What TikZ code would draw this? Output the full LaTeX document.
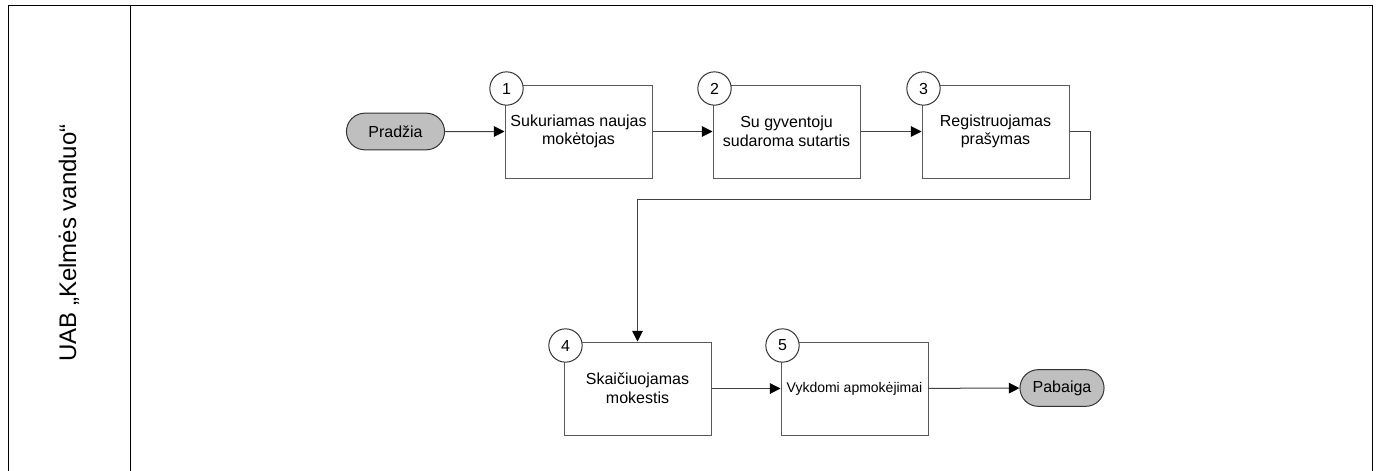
\documentclass[tikz,border=0pt]{standalone}
\usepackage{fontspec}
\setmainfont{Liberation Sans}
\usetikzlibrary{arrows.meta,shapes.misc}

\tikzset{
  lane/.style={line width=0.75pt, draw=black},
  stepbox/.style={draw=black!65, line width=0.75pt, fill=white, align=center,
    minimum width=110.25pt, minimum height=69.75pt, font=\fontsize{12}{14}\selectfont},
  numcirc/.style={circle, draw=black!80, line width=0.75pt, fill=white,
    minimum size=25pt, inner sep=0pt, font=\fontsize{12}{14}\selectfont},
  term/.style={rounded rectangle, draw=black!80, line width=0.75pt, fill=black!25,
    minimum height=27.5pt, font=\fontsize{12}{14}\selectfont},
  flow/.style={draw=black!75, line width=0.75pt, -{Triangle[length=8pt,width=8pt,color=black]}}
}

\begin{document}
\begin{tikzpicture}[x=0.75pt,y=-0.75pt]
  \useasboundingbox (0,0) rectangle (1382,471);

  % swimlane
  \draw[lane] (8,471) -- (8,5) -- (1372,5) -- (1372,471);
  \draw[lane] (130,5) -- (130,471);
  \node[rotate=90, font=\fontsize{18}{20}\selectfont] (org) at (69,243) {UAB „Kelmės vanduo“};

  % start / end
  \node[term, minimum width=80.25pt] (start) at (395.5,131.5) {Pradžia};
  \node[term, minimum width=69.75pt] (end) at (1062,388) {Pabaiga};

  % steps
  \node[stepbox] (b1) at (578.5,131.5) {Sukuriamas naujas\\mokėtojas};
  \node[stepbox] (b2) at (786.5,131.5) {Su gyventoju\\sudaroma sutartis};
  \node[stepbox] (b3) at (995.5,131.5) {Registruojamas\\prašymas};
  \node[stepbox] (b4) at (637.5,388.5) {Skaičiuojamas\\mokestis};
  \node[stepbox, font=\fontsize{10.5}{12}\selectfont] (b5) at (854.5,388.5) {Vykdomi apmokėjimai};

  % numbers
  \foreach \n in {1,...,5}
    \node[numcirc] (c\n) at ([shift={(2,4)}]b\n.north west) {\n};

  % flow
  \coordinate (turn) at (1090,199);
  \draw[flow] (start) -- (b1);
  \draw[flow] (b1) -- (b2);
  \draw[flow] (b2) -- (b3);
  \draw[flow] (b3.east) -| (turn) -| (b4.north);
  \draw[flow] (b4) -- (b5);
  \draw[flow] (b5) -- (end);
\end{tikzpicture}
\end{document}
